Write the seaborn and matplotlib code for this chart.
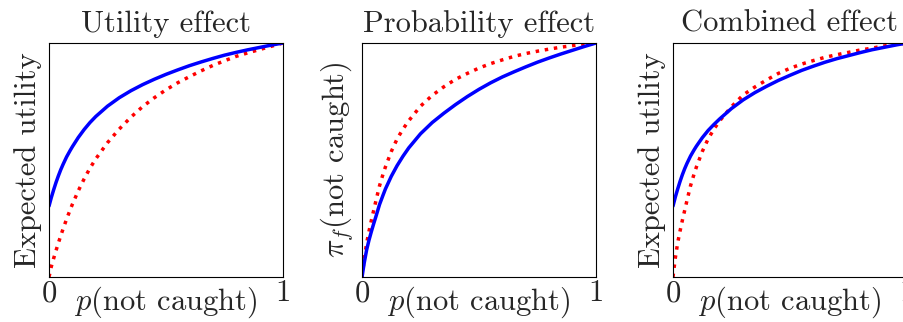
import matplotlib
matplotlib.use("Agg")
import matplotlib.pyplot as plt
import seaborn as sns

# p(not caught) positions where the curves were read
p = [0, 0.01, 0.02, 0.03, 0.04, 0.05, 0.06, 0.075, 0.09, 0.1, 0.125, 0.15, 0.175,
     0.2, 0.25, 0.3, 0.35, 0.4, 0.45, 0.5, 0.55, 0.6, 0.65, 0.7, 0.75, 0.8,
     0.85, 0.9, 0.95, 1.0]

# panel 1: utility effect
utility_blue = [0.303, 0.34, 0.373, 0.404, 0.432, 0.458, 0.481, 0.513, 0.540, 0.557,
                0.596, 0.630, 0.660, 0.686, 0.730, 0.766, 0.796, 0.822, 0.845, 0.866,
                0.885, 0.903, 0.919, 0.934, 0.948, 0.960, 0.971, 0.981, 0.991, 1.0]
utility_red = [0, 0.045, 0.08, 0.113, 0.145, 0.176, 0.205, 0.247, 0.286, 0.311,
               0.368, 0.419, 0.465, 0.505, 0.574, 0.632, 0.683, 0.728, 0.766, 0.800,
               0.830, 0.856, 0.881, 0.904, 0.924, 0.943, 0.958, 0.972, 0.986, 1.0]

# panel 2: probability effect
prob_blue = [0, 0.063, 0.117, 0.158, 0.194, 0.228, 0.26, 0.31, 0.35, 0.376,
             0.43, 0.476, 0.516, 0.552, 0.612, 0.66, 0.700, 0.737, 0.771, 0.802,
             0.83, 0.855, 0.877, 0.898, 0.918, 0.936, 0.953, 0.969, 0.985, 1.0]
prob_red = [0, 0.082, 0.146, 0.196, 0.242, 0.285, 0.328, 0.39, 0.44, 0.47,
            0.536, 0.59, 0.632, 0.668, 0.73, 0.776, 0.813, 0.845, 0.87, 0.893,
            0.912, 0.928, 0.943, 0.955, 0.965, 0.974, 0.982, 0.989, 0.995, 1.0]

# panel 3: combined effect
comb_blue = [0.303, 0.342, 0.376, 0.408, 0.437, 0.463, 0.486, 0.517, 0.543, 0.559,
             0.595, 0.626, 0.652, 0.676, 0.72, 0.757, 0.788, 0.815, 0.84, 0.862,
             0.883, 0.901, 0.918, 0.933, 0.946, 0.959, 0.971, 0.981, 0.991, 1.0]
comb_red = [0, 0.082, 0.146, 0.196, 0.242, 0.285, 0.328, 0.39, 0.44, 0.47,
            0.536, 0.59, 0.632, 0.668, 0.728, 0.778, 0.812, 0.842, 0.87, 0.892,
            0.91, 0.925, 0.939, 0.950, 0.96, 0.97, 0.978, 0.987, 0.994, 1.0]

titles = ["Utility effect", "Probability effect", "Combined effect"]
ylabels = ["Expected utility", r"$\pi_f$(not caught)", "Expected utility"]
xlabel = r"$p$(not caught)"
xtick_labels = ["0", "1"]

sns.set_style("white")
plt.rcParams["font.family"] = "cmr10"
plt.rcParams["mathtext.fontset"] = "cm"
plt.rcParams["axes.formatter.use_mathtext"] = True
plt.rcParams["axes.edgecolor"] = "black"
plt.rcParams["axes.linewidth"] = 0.8

W, H = 904, 322
fig = plt.figure(figsize=(W / 100, H / 100), dpi=100)

lefts = [49, 362, 673]   # pixel positions of the axes
size = 234
top = 43

series = [(utility_blue, utility_red), (prob_blue, prob_red), (comb_blue, comb_red)]

for i in range(3):
    ax = fig.add_axes([lefts[i] / W, (H - top - size) / H, size / W, size / H])
    blue, red = series[i]
    sns.lineplot(x=p, y=red, ax=ax, color="#ff0000", lw=2.5, linestyle=":")
    sns.lineplot(x=p, y=blue, ax=ax, color="#0000ff", lw=2.5)
    ax.set_xlim(0, 1)
    ax.set_ylim(0, 1)
    ax.set_xticks([0, 1])
    ax.set_xticklabels(xtick_labels)
    ax.set_yticks([])
    ax.tick_params(length=0, pad=2, labelsize=22)
    ax.set_title(titles[i], fontsize=22, pad=8)
    ax.set_xlabel(xlabel, fontsize=22, labelpad=-16)
    ax.set_ylabel(ylabels[i], fontsize=22, labelpad=5)

fig.savefig("out.png", dpi=100)
